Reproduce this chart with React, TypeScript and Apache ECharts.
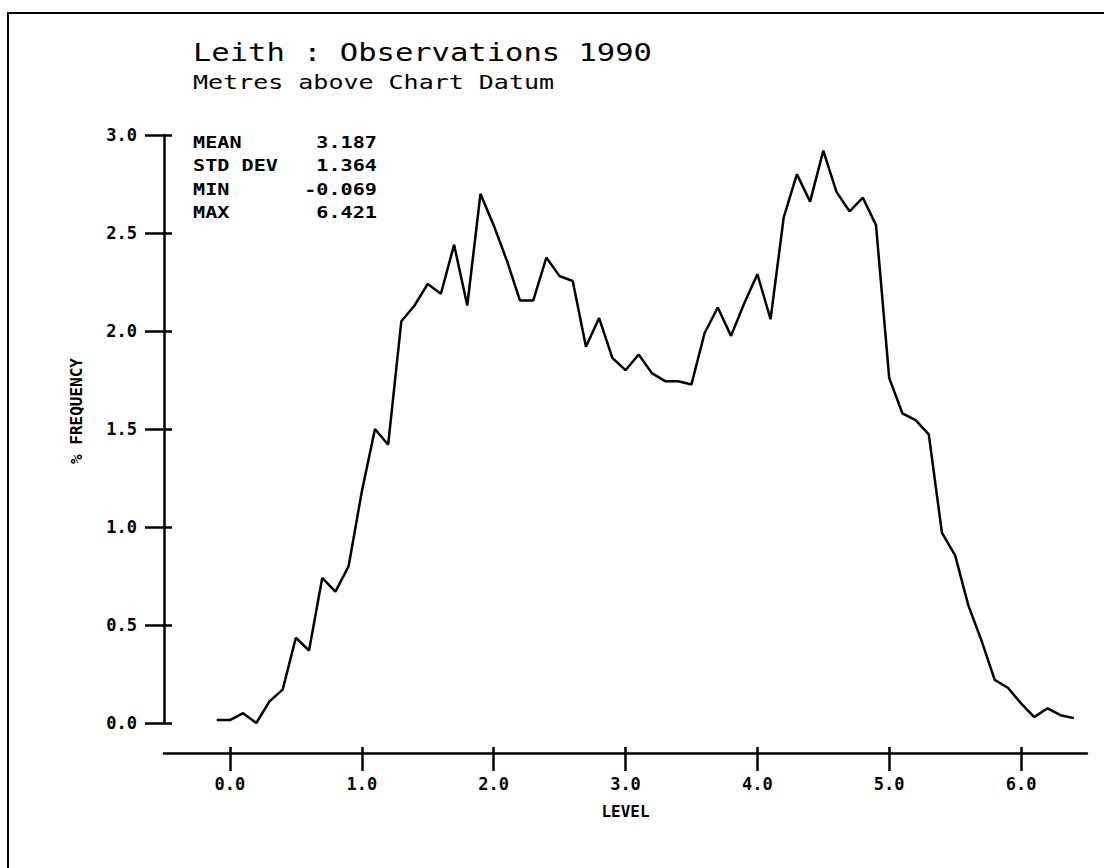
import { useEffect, useRef } from "react";
import * as echarts from "echarts";

const levels = [
  -0.1, 0.0, 0.1, 0.2, 0.3, 0.4, 0.5, 0.6, 0.7, 0.8, 0.9,
  1.0, 1.1, 1.2, 1.3, 1.4, 1.5, 1.6, 1.7, 1.8, 1.9,
  2.0, 2.1, 2.2, 2.3, 2.4, 2.5, 2.6, 2.7, 2.8, 2.9,
  3.0, 3.1, 3.2, 3.3, 3.4, 3.5, 3.6, 3.7, 3.8, 3.9,
  4.0, 4.1, 4.2, 4.3, 4.4, 4.5, 4.6, 4.7, 4.8, 4.9,
  5.0, 5.1, 5.2, 5.3, 5.4, 5.5, 5.6, 5.7, 5.8, 5.9,
  6.0, 6.1, 6.2, 6.3, 6.4,
];

const frequency = [
  0.015, 0.015, 0.05, 0.0, 0.11, 0.17, 0.435, 0.37, 0.74, 0.67, 0.8,
  1.18, 1.5, 1.42, 2.05, 2.13, 2.24, 2.19, 2.44, 2.13, 2.7,
  2.54, 2.36, 2.155, 2.155, 2.375, 2.28, 2.255, 1.92, 2.066, 1.863,
  1.8, 1.88, 1.785, 1.744, 1.744, 1.727, 1.99, 2.12, 1.975, 2.14,
  2.29, 2.06, 2.58, 2.8, 2.66, 2.92, 2.71, 2.61, 2.68, 2.54,
  1.76, 1.58, 1.545, 1.473, 0.97, 0.855, 0.6, 0.42, 0.22, 0.18,
  0.1, 0.03, 0.075, 0.04, 0.025,
];

const xTickValues = [0, 1, 2, 3, 4, 5, 6];
const statLabels = ["MEAN", "STD DEV", "MIN", "MAX"];
const statValues = ["3.187", "1.364", "-0.069", "6.421"];
const titleText = "Leith : Observations 1990";
const subtitleText = "Metres above Chart Datum";
const xAxisName = "LEVEL";
const yAxisName = "% FREQUENCY";

export default function App() {
  const ref = useRef<HTMLDivElement>(null);

  useEffect(() => {
    document.body.style.margin = "0";
    const chart = echarts.init(ref.current!, null, { renderer: "svg" });
    const mono = "'DejaVu Sans Mono', monospace";
    const labelStyle = {
      fontFamily: mono,
      fontWeight: "bold" as const,
      fontSize: 17,
      color: "#000",
    };
    const nameStyle = {
      fontFamily: mono,
      fontWeight: "bold" as const,
      fontSize: 16,
      color: "#000",
    };
    const axisLineStyle = { color: "#000", width: 2.5 };
    const data = levels.map((l, i) => [l, frequency[i]]);
    const statRows = [142, 165.5, 189, 212.5];

    const statElements: any[] = [];
    statLabels.forEach((lab, i) => {
      statElements.push({
        type: "text",
        x: 193,
        y: statRows[i],
        scaleX: 1.3,
        style: {
          text: lab,
          fontFamily: mono,
          fontWeight: "bold",
          fontSize: 15.5,
          fill: "#000",
          align: "left",
          verticalAlign: "middle",
          textAlign: "left",
          textVerticalAlign: "middle",
        },
      });
      statElements.push({
        type: "text",
        x: 377,
        y: statRows[i],
        scaleX: 1.3,
        style: {
          text: statValues[i],
          fontFamily: mono,
          fontWeight: "bold",
          fontSize: 15.5,
          fill: "#000",
          align: "right",
          verticalAlign: "middle",
          textAlign: "right",
          textVerticalAlign: "middle",
        },
      });
    });

    chart.setOption({
      animation: false,
      backgroundColor: "#fff",
      grid: { left: 164, right: 17, top: 135, bottom: 145, containLabel: false },
      xAxis: [
        {
          type: "value",
          min: -0.5,
          max: 6.5,
          position: "bottom",
          offset: 30,
          axisLine: { show: true, onZero: false, lineStyle: axisLineStyle },
          axisTick: {
            show: true,
            inside: false,
            length: 18,
            customValues: xTickValues,
            lineStyle: axisLineStyle,
          },
          axisLabel: {
            show: true,
            customValues: xTickValues,
            margin: 22,
            formatter: (v: number) => v.toFixed(1),
            ...labelStyle,
          },
          splitLine: { show: false },
          name: xAxisName,
          nameLocation: "middle",
          nameGap: 50,
          nameTextStyle: { ...nameStyle },
        },
        {
          type: "value",
          min: -0.5,
          max: 6.5,
          position: "bottom",
          offset: 30,
          axisLine: { show: false, onZero: false },
          axisTick: {
            show: true,
            inside: true,
            length: 6,
            customValues: xTickValues,
            lineStyle: axisLineStyle,
          },
          axisLabel: { show: false },
          splitLine: { show: false },
        },
      ],
      yAxis: [
        {
          type: "value",
          min: 0,
          max: 3,
          interval: 0.5,
          position: "left",
          axisLine: { show: true, onZero: false, lineStyle: axisLineStyle },
          axisTick: { show: true, inside: false, length: 19, lineStyle: axisLineStyle },
          axisLabel: {
            show: true,
            margin: 27,
            formatter: (v: number) => v.toFixed(1),
            ...labelStyle,
          },
          splitLine: { show: false },
          name: yAxisName,
          nameLocation: "middle",
          nameRotate: 90,
          nameGap: 80,
          nameTextStyle: { ...nameStyle, padding: [0, 0, 0, 36] },
        },
        {
          type: "value",
          min: 0,
          max: 3,
          interval: 0.5,
          position: "left",
          axisLine: { show: false, onZero: false },
          axisTick: { show: true, inside: true, length: 8, lineStyle: axisLineStyle },
          axisLabel: { show: false },
          splitLine: { show: false },
        },
      ],
      series: [
        {
          type: "line",
          data,
          xAxisIndex: 0,
          yAxisIndex: 0,
          showSymbol: false,
          symbol: "none",
          lineStyle: { color: "#000", width: 2.5 },
          itemStyle: { color: "#000" },
        },
      ],
      graphic: {
        elements: [
          {
            type: "rect",
            shape: { x: 8, y: 13, width: 1400, height: 1000 },
            style: { fill: "none", stroke: "#000", lineWidth: 2 },
            silent: true,
          },
          {
            type: "text",
            x: 193,
            y: 52,
            scaleX: 1.22,
            style: {
              text: titleText,
              fontFamily: mono,
              fontSize: 25,
              fill: "#000",
              align: "left",
              verticalAlign: "middle",
              textAlign: "left",
              textVerticalAlign: "middle",
            },
          },
          {
            type: "text",
            x: 193,
            y: 82,
            scaleX: 1.25,
            style: {
              text: subtitleText,
              fontFamily: mono,
              fontSize: 20,
              fill: "#000",
              align: "left",
              verticalAlign: "middle",
              textAlign: "left",
              textVerticalAlign: "middle",
            },
          },
          ...statElements,
        ],
      },
    });

    return () => chart.dispose();
  }, []);

  return <div ref={ref} style={{ width: 1104, height: 868 }} />;
}
